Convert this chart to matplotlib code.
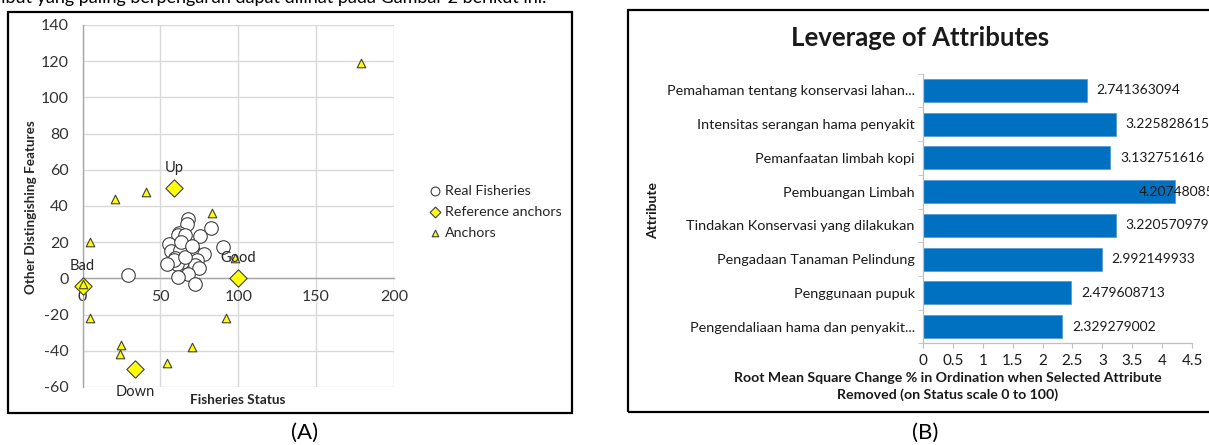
import matplotlib
matplotlib.use('Agg')
import matplotlib.pyplot as plt
import numpy as np
from matplotlib.patches import Rectangle

plt.rcParams['font.family'] = ['Lato', 'DejaVu Sans']
plt.rcParams['axes.unicode_minus'] = False

# ---- data, panel A (RAPFISH ordination) ----
real_x = [29.5, 67.6, 67, 82.5, 62, 61, 66, 75.5, 55.5, 90, 57, 62.7, 71, 78,
          59.5, 64, 73.5, 60.5, 72.5, 74.5, 58.5, 54.5, 68, 61, 72.3, 66, 63, 70]
real_y = [2, 33, 30, 28, 25, 24, 24, 23.5, 19, 17.5, 15, 15.5, 15, 13.5,
          11, 9.3, 10, 8, 7.3, 5.6, 10, 8, 2.2, 1, -3, 12, 20, 18]
ref_x = [0, 100, 59, 34]
ref_y = [-4, 0, 50, -50]
ref_names = ['Bad', 'Good', 'Up', 'Down']
anc_x = [179, 21, 41, 83, 5, 98, 0, 5, 92, 25, 24, 70, 54]
anc_y = [119, 44, 47.5, 36, 20, 11, -3, -22, -22, -37, -42, -38, -47]

# ---- data, panel B (leverage) ----
attributes = ['Pemahaman tentang konservasi lahan...',
              'Intensitas serangan hama penyakit',
              'Pemanfaatan limbah kopi',
              'Pembuangan Limbah',
              'Tindakan Konservasi yang dilakukan',
              'Pengadaan Tanaman Pelindung',
              'Penggunaan pupuk',
              'Pengendaliaan hama dan penyakit...']
leverage = [2.741363094, 3.225828615, 3.132751616, 4.20748085,
            3.220570979, 2.992149933, 2.479608713, 2.329279002]

W, H = 1209, 445
fig = plt.figure(figsize=(W / 100, H / 100), dpi=100)


def fx(px):
    return px / W


def fy(py):
    return 1 - py / H


# clipped sentence at the very top of the page
fig.text(fx(546), fy(3), 'atribut yang paling berpengaruh dapat dilihat pada Gambar 2 berikut ini.',
         va='baseline', ha='right', fontsize=13, color='black')

# ---------------- panel A ----------------
axA = fig.add_axes([fx(82.5), fy(387), (394 - 82.5) / W, (387 - 25) / H])
axA.set_xlim(0, 200)
axA.set_ylim(-60, 140)
axA.set_xticks([0, 50, 100, 150, 200])
axA.set_yticks(np.arange(-60, 141, 20))
axA.grid(True, color='#d9d9d9', lw=1)
axA.set_axisbelow(True)
for s in ['top', 'right']:
    axA.spines[s].set_visible(False)
axA.spines['bottom'].set_position(('data', 0))
axA.spines['left'].set_position(('data', 0))
for s in ['bottom', 'left']:
    axA.spines[s].set_color('#a6a6a6')
    axA.spines[s].set_linewidth(1)
axA.tick_params(axis='both', length=0, labelsize=11.5, labelcolor='#333333')
axA.tick_params(axis='x', pad=8)
axA.tick_params(axis='y', pad=10)

sc1 = axA.scatter(real_x, real_y, s=95, facecolor='white', edgecolor='#3f3f3f',
                  lw=0.8, zorder=3, label='Real Fisheries')
sc2 = axA.scatter(ref_x, ref_y, s=78, marker='D', facecolor='#ffff00', edgecolor='#3f3f3f',
                  lw=0.8, zorder=4, label='Reference anchors', clip_on=False)
sc3 = axA.scatter(anc_x, anc_y, s=38, marker='^', facecolor='#ffff00', edgecolor='#3f3f3f',
                  lw=0.8, zorder=5, label='Anchors', clip_on=False)

label_offsets = {'Bad': (0, 11), 'Good': (0, 11.4), 'Up': (0, 11), 'Down': (0, -13)}
for name, x, y in zip(ref_names, ref_x, ref_y):
    dx, dy = label_offsets[name]
    axA.text(x + dx, y + dy, name, ha='center', va='center', fontsize=10.5,
             color='#262626', clip_on=False, zorder=6)

fig.text(fx(31), fy(207), 'Other Distingishing Features', rotation=90, ha='center', va='center',
         fontsize=9.7, fontweight='bold', color='#262626')
fig.text(fx(238), fy(400), 'Fisheries Status', ha='center', va='center',
         fontsize=9.8, fontweight='bold', color='#262626')

leg = fig.legend(handles=[sc1, sc2, sc3], loc='upper left',
                 bbox_to_anchor=(fx(429), fy(185)), bbox_transform=fig.transFigure,
                 frameon=False, fontsize=10.3, handlelength=0.8, handletextpad=0.3,
                 labelspacing=0.62, borderpad=0, borderaxespad=0, scatterpoints=1)
for h, sz in zip(leg.legend_handles, [40, 30, 22]):
    h.set_sizes([sz])
for t in leg.get_texts():
    t.set_color('#262626')

fig.add_artist(Rectangle((fx(8), fy(413)), (572 - 8) / W, (413 - 12) / H,
                         transform=fig.transFigure, fill=False, ec='black', lw=1.6))
fig.text(fx(305), fy(433), '(A)', ha='center', va='center', fontsize=16)

# ---------------- panel B ----------------
axB = fig.add_axes([fx(923), fy(343.4), (1192 - 923) / W, (343.4 - 73.6) / H])
ypos = np.arange(len(attributes))
axB.barh(ypos, leverage, height=0.68, color='#0070c0', edgecolor='#5b9bd5', lw=0.6)
axB.set_ylim(len(attributes) - 0.5, -0.5)
axB.set_xlim(0, 4.5)
xt = np.arange(0, 4.51, 0.5)
axB.set_xticks(xt)
axB.set_xticklabels([f'{t:g}' for t in xt])
axB.set_yticks(ypos)
axB.set_yticklabels(attributes)
axB.set_yticks(np.arange(-0.5, len(attributes), 1), minor=True)
for s in ['top', 'right']:
    axB.spines[s].set_visible(False)
for s in ['bottom', 'left']:
    axB.spines[s].set_color('#bfbfbf')
    axB.spines[s].set_linewidth(0.9)
axB.tick_params(axis='y', which='major', length=0, pad=6, labelsize=10.4, labelcolor='#1a1a1a')
axB.tick_params(axis='y', which='minor', length=3.6, color='#bfbfbf', direction='out')
axB.tick_params(axis='x', length=3.6, color='#bfbfbf', direction='out', pad=4,
                labelsize=11, labelcolor='#1a1a1a')

for i, v in enumerate(leverage):
    off = 7 if v < 4 else -26
    axB.annotate(f'{v}', (v, i), xytext=(off, 0), textcoords='offset points',
                 ha='left', va='center', fontsize=10, color='#1a1a1a', annotation_clip=False)

fig.text(fx(920), fy(38), 'Leverage of Attributes', ha='center', va='center',
         fontsize=18.5, fontweight='bold', color='#1a1a1a')
fig.text(fx(653), fy(210), 'Attribute', rotation=90, ha='center', va='center',
         fontsize=10, fontweight='bold', color='#1a1a1a')
fig.text(fx(948), fy(386.5),
         'Root Mean Square Change % in Ordination when Selected Attribute\nRemoved (on Status scale 0 to 100)',
         ha='center', va='center', fontsize=10.2, fontweight='bold', linespacing=1.35, color='#1a1a1a')

fig.add_artist(Rectangle((fx(628), fy(412)), (1240 - 628) / W, (412 - 10) / H,
                         transform=fig.transFigure, fill=False, ec='black', lw=1.6))
fig.text(fx(925), fy(433), '(B)', ha='center', va='center', fontsize=16)

fig.savefig('out.png', dpi=100)
